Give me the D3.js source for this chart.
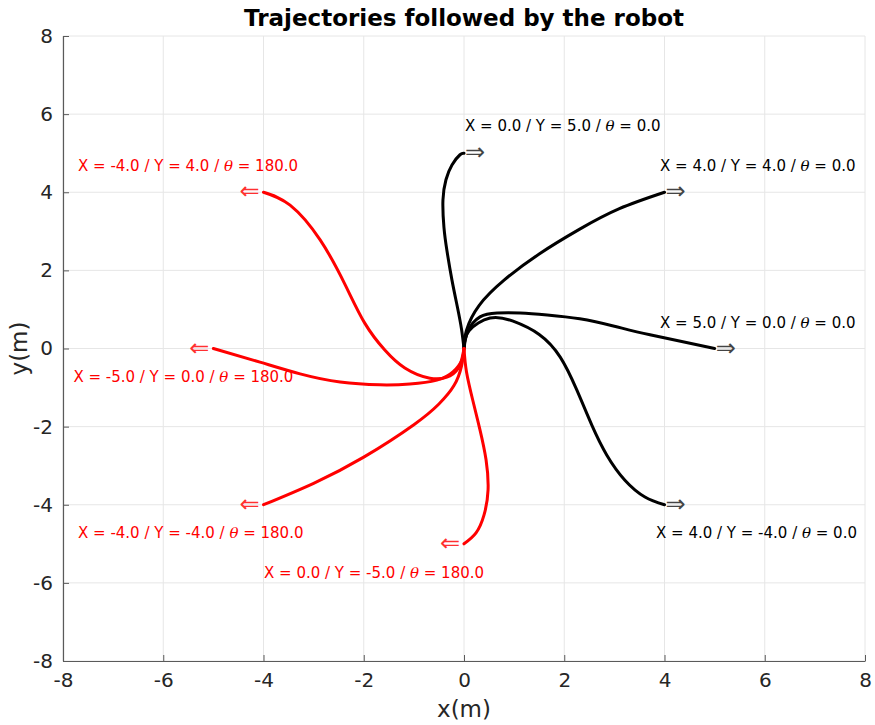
<!DOCTYPE html>
<html><head><meta charset="utf-8">
<script src="https://cdn.jsdelivr.net/npm/d3@7"></script>
<style>body{margin:0;background:#fff}svg{display:block}</style>
</head><body>
<svg id="c" width="875" height="725"></svg>
<script>
// ---- data ----
const titleText = "Trajectories followed by the robot";
const xTicks = [-8,-6,-4,-2,0,2,4,6,8];
const yTicks = [-8,-6,-4,-2,0,2,4,6,8];
const goals = [
  {X:0, Y:5, th:0}, {X:4, Y:4, th:0}, {X:5, Y:0, th:0}, {X:4, Y:-4, th:0},
  {X:-4, Y:4, th:180}, {X:-5, Y:0, th:180}, {X:-4, Y:-4, th:180}, {X:0, Y:-5, th:180}
];
const trajA = [[0,0],[-0.05,0.5],[-0.13,1.05],[-0.24,1.75],[-0.34,2.5],[-0.4,3.1],[-0.42,3.8],[-0.36,4.32],[-0.24,4.7],[-0.08,4.96],[0,5]];
const trajB = [[0,0],[0.05,0.47],[0.3,1.1],[0.8,1.75],[1.5,2.42],[2.3,3.05],[3.1,3.58],[4,4]];
const trajC = [[0,0],[0.08,0.45],[0.32,0.81],[0.66,0.91],[1.12,0.91],[1.66,0.86],[2.31,0.76],[3.0,0.57],[3.71,0.35],[5,0]];
const trajD = [[0,0],[0.1,0.45],[0.52,0.78],[0.98,0.70],[1.5,0.36],[1.92,-0.22],[2.25,-1.06],[2.55,-1.96],[2.85,-2.73],[3.21,-3.37],[3.61,-3.80],[4,-4]];
const trajE = [[0,0],[-0.08,-0.42],[-0.28,-0.70],[-0.68,-0.76],[-1.18,-0.50],[-1.58,-0.04],[-1.98,0.65],[-2.37,1.63],[-2.87,2.78],[-3.47,3.67],[-4,4]];
const trajF = [[0,0],[-0.04,-0.29],[-0.22,-0.60],[-0.54,-0.81],[-1.08,-0.91],[-1.68,-0.93],[-2.47,-0.86],[-3.27,-0.65],[-4.07,-0.35],[-5,0]];
const trajG = [[0,0],[-0.05,-0.45],[-0.2,-0.95],[-0.5,-1.42],[-1.0,-1.95],[-2.0,-2.78],[-3.0,-3.45],[-4,-4]];
const trajH = [[0,0],[0.05,-0.6],[0.18,-1.35],[0.32,-2.09],[0.44,-2.85],[0.48,-3.62],[0.40,-4.26],[0.24,-4.72],[0,-5]];
const trajectories = [trajA,trajB,trajC,trajD,trajE,trajF,trajG,trajH];

// ---- layout ----
const W=875,H=725;
const m={l:63,r:10,t:36,b:64};
const svg=d3.select("#c");
const x=d3.scaleLinear().domain([-8,8]).range([m.l,W-m.r]);
const y=d3.scaleLinear().domain([-8,8]).range([H-m.b,m.t]);
const axisColor="#262626";
const font="DejaVu Sans, sans-serif";
const fmt=d=>String(d);

// grid
const g=svg.append("g");
g.selectAll(".gx").data(xTicks).join("line")
  .attr("x1",d=>x(d)).attr("x2",d=>x(d)).attr("y1",y(-8)).attr("y2",y(8))
  .attr("stroke","#e6e6e6").attr("stroke-width",1);
g.selectAll(".gy").data(yTicks).join("line")
  .attr("y1",d=>y(d)).attr("y2",d=>y(d)).attr("x1",x(-8)).attr("x2",x(8))
  .attr("stroke","#e6e6e6").attr("stroke-width",1);

// axes
const xa=svg.append("g").attr("transform",`translate(0,${y(-8)})`)
  .call(d3.axisBottom(x).tickValues(xTicks).tickFormat(fmt).tickSizeInner(-6).tickSizeOuter(0).tickPadding(12));
const ya=svg.append("g").attr("transform",`translate(${x(-8)},0)`)
  .call(d3.axisLeft(y).tickValues(yTicks).tickFormat(fmt).tickSizeInner(-6).tickSizeOuter(0).tickPadding(10));
[xa,ya].forEach(a=>{
  a.select(".domain").attr("stroke","#5a5a5a").attr("stroke-width",1.2);
  a.selectAll(".tick line").attr("stroke","#5a5a5a");
  a.selectAll("text").attr("font-family",font).attr("font-size",20).attr("fill",axisColor);
});

// trajectories
const line=d3.line().x(d=>x(d[0])).y(d=>y(d[1])).curve(d3.curveNatural);
trajectories.forEach((t,i)=>{
  const red=goals[i].th===180;
  svg.append("path").attr("d",line(t)).attr("fill","none")
    .attr("stroke",red?"#ff0000":"#000").attr("stroke-width",3)
    .attr("stroke-linecap","round").attr("stroke-linejoin","round");
});

// labels & arrows
const labelOff=[[1,-22],[-4.5,-21],[-54.6,-21],[-8.5,33],[-185.5,-21],[-140,33],[-185.5,33],[-200,34]];
goals.forEach((gl,i)=>{
  const red=gl.th===180;
  const col=red?"#ff0000":"#000";
  const px=x(gl.X), py=y(gl.Y);
  const t=svg.append("text").attr("x",px+labelOff[i][0]).attr("y",py+labelOff[i][1])
    .attr("font-family",font).attr("font-size",15).attr("fill",col);
  t.append("tspan").text(`X = ${gl.X.toFixed(1)} / Y = ${gl.Y.toFixed(1)} / `);
  t.append("tspan").attr("font-family","DejaVu Serif, serif").attr("font-style","italic").text("θ");
  t.append("tspan").text(` = ${gl.th.toFixed(1)}`);
  svg.append("text").attr("x",red?px-4:px+1).attr("y",py+7)
    .attr("text-anchor",red?"end":"start")
    .attr("font-family",font).attr("font-size",24)
    .attr("fill",red?"#ff3030":"#444").text(red?"⇐":"⇒");
});

// title and axis labels
svg.append("text").attr("x",(x(-8)+x(8))/2).attr("y",26).attr("text-anchor","middle")
  .attr("font-family",font).attr("font-weight","bold").attr("font-size",23).attr("fill","#000").text(titleText);
svg.append("text").attr("x",(x(-8)+x(8))/2).attr("y",717).attr("text-anchor","middle")
  .attr("font-family",font).attr("font-size",23).attr("fill",axisColor).text("x(m)");
svg.append("text").attr("transform",`translate(27,${(y(-8)+y(8))/2}) rotate(-90)`).attr("text-anchor","middle")
  .attr("font-family",font).attr("font-size",23).attr("fill",axisColor).text("y(m)");
</script>
</body></html>
